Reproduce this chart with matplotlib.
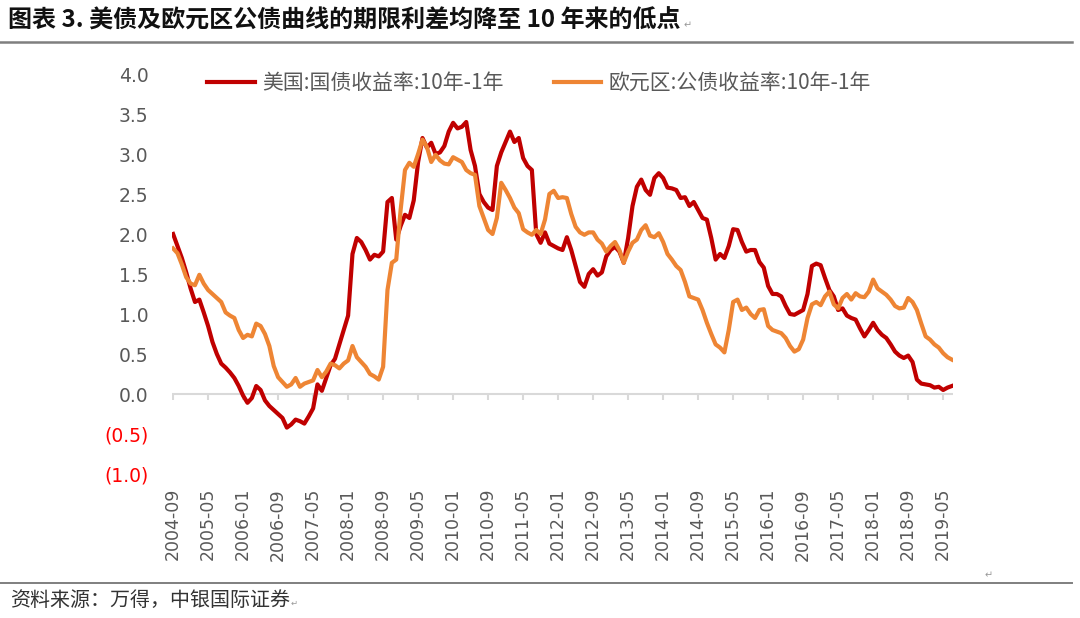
import matplotlib
matplotlib.use("Agg")
import matplotlib.pyplot as plt
import numpy as np
import pandas as pd

# ---------------- data ----------------
start_month = "2004-09"
us_spread = [
    2.00, 1.85, 1.70, 1.52, 1.32, 1.15, 1.18, 1.02, 0.85, 0.65,
    0.50, 0.38, 0.33, 0.27, 0.20, 0.10, -0.02, -0.11, -0.05, 0.10,
    0.05, -0.08, -0.15, -0.20, -0.25, -0.30, -0.42, -0.38, -0.32, -0.34,
    -0.37, -0.28, -0.18, 0.12, 0.04, 0.20, 0.36, 0.44, 0.62, 0.80,
    0.98, 1.75, 1.95, 1.90, 1.80, 1.68, 1.74, 1.72, 1.78, 2.40,
    2.45, 1.93, 2.10, 2.24, 2.20, 2.42, 2.90, 3.20, 3.08, 3.14,
    3.00, 3.02, 3.10, 3.28, 3.39, 3.32, 3.34, 3.40, 3.05, 2.85,
    2.50, 2.40, 2.33, 2.30, 2.85, 3.02, 3.15, 3.28, 3.15, 3.20,
    2.95, 2.85, 2.80, 2.00, 1.89, 2.02, 1.88, 1.85, 1.82, 1.80,
    1.96, 1.80, 1.60, 1.40, 1.34, 1.50, 1.56, 1.48, 1.52, 1.72,
    1.80, 1.84, 1.78, 1.64, 1.95, 2.35, 2.59, 2.68, 2.55, 2.49,
    2.70, 2.76, 2.70, 2.58, 2.57, 2.55, 2.45, 2.46, 2.35, 2.40,
    2.30, 2.20, 2.18, 1.95, 1.68, 1.75, 1.70, 1.85, 2.06, 2.05,
    1.90, 1.78, 1.80, 1.80, 1.65, 1.58, 1.35, 1.25, 1.25, 1.22,
    1.10, 1.00, 0.99, 1.02, 1.05, 1.25, 1.60, 1.63, 1.61, 1.45,
    1.30, 1.22, 1.05, 1.07, 0.98, 0.95, 0.93, 0.82, 0.72, 0.80,
    0.89, 0.80, 0.74, 0.70, 0.62, 0.53, 0.48, 0.45, 0.48, 0.40,
    0.18, 0.13, 0.12, 0.11, 0.08, 0.09, 0.05, 0.08, 0.10,
]
euro_spread = [
    1.82, 1.76, 1.62, 1.46, 1.38, 1.36, 1.49, 1.38, 1.30, 1.25,
    1.20, 1.15, 1.02, 0.98, 0.95, 0.80, 0.70, 0.74, 0.72, 0.88,
    0.85, 0.75, 0.60, 0.35, 0.21, 0.15, 0.09, 0.12, 0.20, 0.09,
    0.13, 0.15, 0.17, 0.30, 0.21, 0.28, 0.38, 0.36, 0.32, 0.38,
    0.42, 0.60, 0.46, 0.40, 0.34, 0.25, 0.22, 0.18, 0.34, 1.30,
    1.64, 1.68, 2.30, 2.80, 2.89, 2.84, 3.00, 3.18, 3.09, 2.90,
    2.99, 2.92, 2.88, 2.87, 2.96, 2.93, 2.90, 2.80, 2.76, 2.74,
    2.35, 2.20, 2.05, 2.00, 2.20, 2.64, 2.55, 2.45, 2.33, 2.26,
    2.06, 2.02, 1.99, 2.05, 2.00, 2.18, 2.50, 2.54, 2.45, 2.46,
    2.45, 2.25, 2.09, 2.02, 1.99, 2.02, 2.02, 1.93, 1.88, 1.78,
    1.85, 1.90, 1.80, 1.64, 1.78, 1.89, 1.93, 2.05, 2.11, 1.98,
    1.96, 2.01, 1.90, 1.75, 1.68, 1.60, 1.55, 1.40, 1.22, 1.20,
    1.18, 1.05, 0.89, 0.75, 0.62, 0.58, 0.52, 0.80, 1.15, 1.18,
    1.05, 1.08, 1.00, 0.95, 1.05, 1.06, 0.85, 0.80, 0.78, 0.76,
    0.70, 0.60, 0.53, 0.56, 0.68, 0.95, 1.12, 1.15, 1.11, 1.22,
    1.28, 1.12, 1.07, 1.20, 1.25, 1.18, 1.26, 1.22, 1.21, 1.28,
    1.43, 1.32, 1.28, 1.24, 1.18, 1.10, 1.07, 1.08, 1.20, 1.15,
    1.05, 0.88, 0.72, 0.68, 0.62, 0.58, 0.51, 0.46, 0.43,
]
tick_labels = [
    "2004-09", "2005-05", "2006-01", "2006-09", "2007-05", "2008-01",
    "2008-09", "2009-05", "2010-01", "2010-09", "2011-05", "2012-01",
    "2012-09", "2013-05", "2014-01", "2014-09", "2015-05", "2016-01",
    "2016-09", "2017-05", "2018-01", "2018-09", "2019-05",
]
y_ticks = [-1.0, -0.5, 0.0, 0.5, 1.0, 1.5, 2.0, 2.5, 3.0, 3.5, 4.0]
series_names = ["美国:国债收益率:10年-1年", "欧元区:公债收益率:10年-1年"]
title_text = "图表 3. 美债及欧元区公债曲线的期限利差均降至 10 年来的低点"
source_text = "资料来源：万得，中银国际证券"

# ---------------- styling ----------------
RED = "#C00000"
ORANGE = "#EE8534"
GRAY_TXT = "#595959"
CJK = ["Noto Sans CJK SC", "DejaVu Sans"]

dates = pd.date_range(start_month, periods=len(us_spread), freq="MS").strftime("%Y-%m")
x = np.arange(len(dates))

W, H = 1080, 618
fig = plt.figure(figsize=(W / 100, H / 100), dpi=100)
fig.patch.set_facecolor("white")

ax_l, ax_r, ax_t, ax_b = 172, 953, 74, 474
ax = fig.add_axes([ax_l / W, 1 - ax_b / H, (ax_r - ax_l) / W, (ax_b - ax_t) / H])

ax.plot(x, us_spread, color=RED, lw=3.0, label=series_names[0], solid_joinstyle="round")
ax.plot(x, euro_spread, color=ORANGE, lw=3.0, label=series_names[1], solid_joinstyle="round")

ax.set_xlim(-0.25, len(x) - 0.75)
ax.set_ylim(-1.0, 4.0)
for s in ax.spines.values():
    s.set_visible(False)

# zero axis line with small tick marks
ax.axhline(0, color="#D9D9D9", lw=1.5, zorder=0)
tick_pos = [int(np.where(dates == t)[0][0]) for t in tick_labels]
ax.vlines(tick_pos, -0.075, 0, color="#D9D9D9", lw=1.5, zorder=0)

ax.set_xticks(tick_pos)
ax.set_xticklabels(tick_labels, rotation=90, fontsize=12.5, color=GRAY_TXT,
                   family="DejaVu Sans")
ax.tick_params(axis="x", length=0, pad=10)

ax.set_yticks(y_ticks)
ylabels = [f"({abs(v):.1f})" if v < 0 else f"{v:.1f}" for v in y_ticks]
ax.set_yticklabels(ylabels, fontsize=13.5, family="DejaVu Sans")
for lab, v in zip(ax.get_yticklabels(), y_ticks):
    lab.set_color("#FF0000" if v < 0 else GRAY_TXT)
ax.tick_params(axis="y", length=0, pad=17)

leg = ax.legend(loc="center", bbox_to_anchor=(539 / W, 1 - 83 / H),
                bbox_transform=fig.transFigure, ncol=2, frameon=False,
                prop={"family": CJK, "size": 15}, handlelength=2.3,
                handletextpad=0.35, columnspacing=2.4)
for t in leg.get_texts():
    t.set_color(GRAY_TXT)

# title + rules + source
fig.text(8 / W, 1 - 21 / H, title_text, fontsize=17.3, fontweight="bold",
         family=CJK, color="#111111", va="center", ha="left")
fig.text(684 / W, 1 - 25 / H, "↵", fontsize=7, color="#999999",
         family="DejaVu Sans", va="center")
fig.add_artist(plt.Line2D([0, 1072 / W], [1 - 42 / H] * 2, color="#7F7F7F",
                          lw=1.8, transform=fig.transFigure))
fig.add_artist(plt.Line2D([0, 1072 / W], [1 - 583 / H] * 2, color="#7F7F7F",
                          lw=1.4, transform=fig.transFigure))
fig.text(985 / W, 1 - 575 / H, "↵", fontsize=7, color="#999999",
         family="DejaVu Sans", va="center")
fig.text(10 / W, 1 - 601 / H, source_text, fontsize=14.4, family=CJK,
         style="italic", color="#333333", va="center", ha="left")
fig.text(291 / W, 1 - 603 / H, "↵", fontsize=6, color="#999999",
         family="DejaVu Sans", va="center")

fig.savefig("out.png", dpi=100, facecolor="white")
